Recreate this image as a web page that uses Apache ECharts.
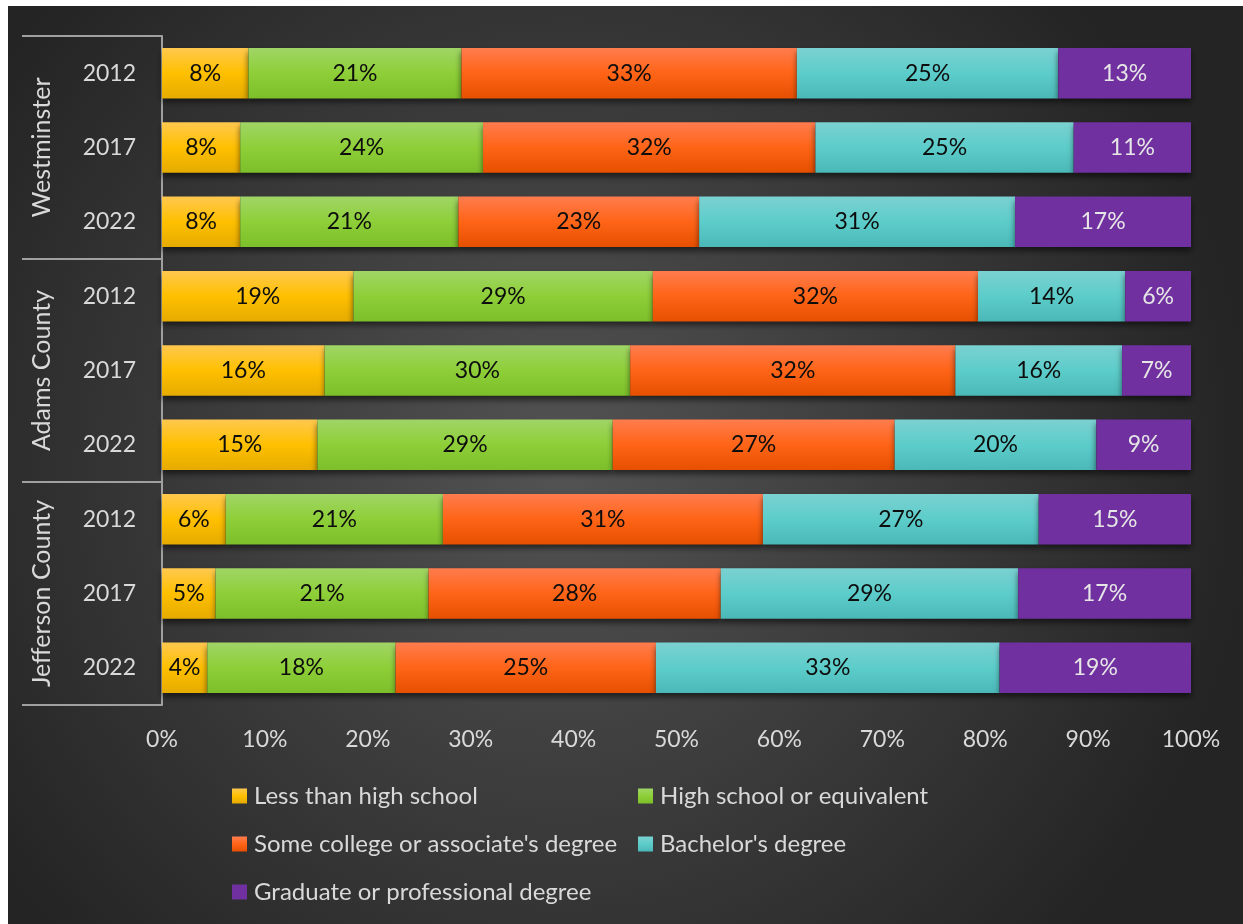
<!DOCTYPE html>
<html>
<head>
<meta charset="utf-8">
<title>Educational attainment</title>
<script src="https://cdn.jsdelivr.net/npm/echarts@6/dist/echarts.min.js"></script>
<style>
  html, body { margin: 0; padding: 0; background: #ffffff; }
  #chart { position: absolute; left: 8px; top: 6px; width: 1235px; height: 918px; }
</style>
</head>
<body>
<div id="chart"></div>
<script>
// Share of adults by highest level of education, per area and survey year (percent)
const regions = ['Westminster', 'Adams County', 'Jefferson County'];
const years = ['2012', '2017', '2022'];

const lessThanHighSchool = [8.4, 7.6, 7.6, 18.6, 15.8, 15.1, 6.2, 5.2, 4.4];
const highSchool        = [20.7, 23.6, 21.2, 29.1, 29.7, 28.7, 21.1, 20.7, 18.3];
const someCollege       = [32.6, 32.3, 23.4, 31.6, 31.6, 27.4, 31.1, 28.4, 25.3];
const bachelors         = [25.4, 25.1, 30.7, 14.3, 16.2, 19.6, 26.8, 28.9, 33.4];
const graduate          = [12.9, 11.4, 17.1, 6.4, 6.7, 9.2, 14.8, 16.8, 18.6];

const xTicks = [0, 10, 20, 30, 40, 50, 60, 70, 80, 90, 100];

const seriesNames = [
  'Less than high school',
  'High school or equivalent',
  "Some college or associate's degree",
  "Bachelor's degree",
  'Graduate or professional degree'
];

// one year label per bar, grouped by area
const yearCategories = [];
regions.forEach(() => years.forEach(y => yearCategories.push(y)));

const FONT = 'Lato';
const TEXT = '#d9d9d9';
const RULE = '#a0a0a0';

function vGrad(top, mid, bottom) {
  return new echarts.graphic.LinearGradient(0, 0, 0, 1, [
    { offset: 0, color: top },
    { offset: 0.5, color: mid },
    { offset: 1, color: bottom }
  ]);
}

const fills = [
  vGrad('#ffc84f', '#ffc000', '#e5ab00'),
  vGrad('#a0d566', '#8ecf38', '#7cbf2a'),
  vGrad('#ff7c4e', '#ff6417', '#e65000'),
  vGrad('#7bd1d1', '#5ccdca', '#4bb8b8'),
  '#7030a0'
];
const labelColors = ['#0d0d0d', '#0d0d0d', '#0d0d0d', '#0d0d0d', '#e6e6e6'];
const values = [lessThanHighSchool, highSchool, someCollege, bachelors, graduate];

const series = seriesNames.map((name, i) => ({
  name: name,
  type: 'bar',
  stack: 'share',
  yAxisIndex: 0,
  barCategoryGap: '32%',
  data: values[i],
  itemStyle: {
    color: fills[i],
    shadowColor: 'rgba(0,0,0,0.55)',
    shadowBlur: 6,
    shadowOffsetY: 4
  },
  label: {
    show: true,
    position: 'inside',
    color: labelColors[i],
    fontFamily: FONT,
    fontSize: 23,
    formatter: p => Math.round(p.value) + '%'
  },
  emphasis: { disabled: true }
}));

const chart = echarts.init(document.getElementById('chart'), null, { renderer: 'canvas' });

const legendCommon = {
  orient: 'vertical',
  top: 778,
  padding: 0,
  itemWidth: 15,
  itemHeight: 15,
  itemGap: 24,
  icon: 'rect',
  selectedMode: false,
  itemStyle: { shadowBlur: 0, shadowColor: 'transparent', shadowOffsetY: 0 },
  textStyle: { color: TEXT, fontFamily: FONT, fontSize: 24, padding: [0, 0, 0, 2] }
};

chart.setOption({
  backgroundColor: {
    type: 'radial', x: 0.45, y: 0.5, r: 0.75,
    colorStops: [
      { offset: 0, color: '#535353' },
      { offset: 1, color: '#242424' }
    ]
  },
  animation: false,
  textStyle: { fontFamily: FONT },
  grid: { left: 154, right: 52, top: 30, bottom: 219, containLabel: false },
  legend: [
    Object.assign({}, legendCommon, {
      left: 224,
      data: [seriesNames[0], seriesNames[2], seriesNames[4]]
    }),
    Object.assign({}, legendCommon, {
      left: 630,
      data: [seriesNames[1], seriesNames[3]]
    })
  ],
  xAxis: {
    type: 'value',
    min: xTicks[0],
    max: xTicks[xTicks.length - 1],
    interval: xTicks[1] - xTicks[0],
    axisLine: { show: false },
    axisTick: { show: false },
    splitLine: { show: false },
    axisLabel: {
      color: TEXT, fontFamily: FONT, fontSize: 23, margin: 23,
      formatter: '{value}%'
    }
  },
  yAxis: [
    {
      type: 'category',
      position: 'left',
      inverse: true,
      data: yearCategories,
      axisLine: { show: true, lineStyle: { color: RULE, width: 2 } },
      axisTick: { show: false },
      splitLine: { show: false },
      axisLabel: { color: TEXT, fontFamily: FONT, fontSize: 23, margin: 26, interval: 0 }
    },
    {
      type: 'category',
      position: 'left',
      inverse: true,
      data: regions,
      axisLine: { show: false },
      axisTick: { show: true, interval: 0, length: 140, lineStyle: { color: RULE, width: 2 } },
      splitLine: { show: false },
      axisLabel: {
        color: TEXT, fontFamily: FONT, fontSize: 25, rotate: 90, margin: 108,
        interval: 0, hideOverlap: false
      }
    }
  ],
  series: series
});
</script>
</body>
</html>
